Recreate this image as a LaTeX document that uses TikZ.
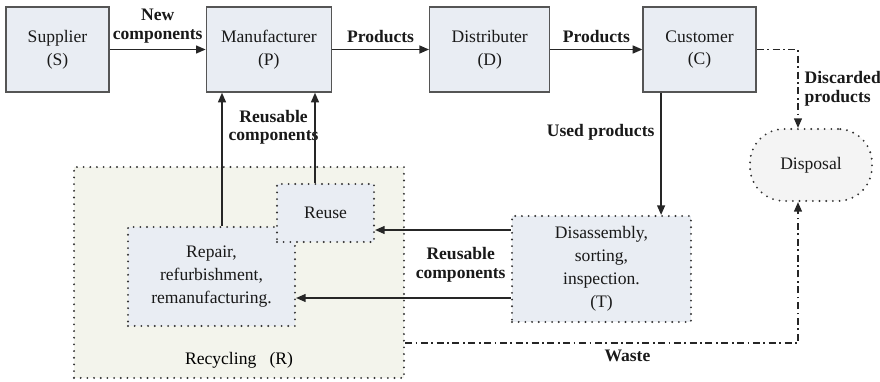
\documentclass[tikz,border=0pt]{standalone}
\usepackage{fontspec}
\setmainfont{Liberation Serif}
\usepackage{tikz}
\usetikzlibrary{arrows.meta,positioning,calc}

\definecolor{boxfill}{HTML}{E9EDF3}
\definecolor{recfill}{HTML}{F3F4EC}
\definecolor{dispfill}{HTML}{F4F4F4}
\definecolor{edgegray}{HTML}{555555}

\begin{document}
\begin{tikzpicture}[
    x=0.02cm, y=-0.02cm,
    font=\fontsize{10}{13}\selectfont,
    block/.style={rectangle, draw=edgegray, fill=boxfill, thick, minimum height=1.7cm, align=center, text=black!90},
    dotbox/.style={rectangle, draw=black!80, fill=boxfill, line width=1.2pt, dash pattern=on 0pt off 3.8pt, line cap=round, align=center, text=black!90},
    lbl/.style={font=\fontsize{10}{10.5}\selectfont\bfseries, align=center, text=black!90},
    arrow/.style={-{Triangle[length=5.5pt,width=4.5pt]}, line width=0.9pt, black!85},
    waste/.style={-{Triangle[length=5.5pt,width=4.5pt]}, line width=0.9pt, black!85, dash pattern=on 4pt off 2pt on 1pt off 2pt}
]
    \useasboundingbox (0,0) rectangle (880,382);

    % Supply chain
    \node[block, minimum width=2.06cm] (S) at (57.5,49.5) {Supplier\\(S)};
    \node[block, minimum width=2.5cm, right=1.92cm of S] (P) {Manufacturer\\(P)};
    \node[block, minimum width=2.4cm, right=1.94cm of P] (D) {Distributer\\(D)};
    \node[block, minimum width=2.26cm, right=1.84cm of D] (C) {Customer\\(C)};

    % Disposal
    \node[dotbox, fill=dispfill, rounded corners=0.68cm, minimum width=2.44cm, minimum height=1.44cm] (disp) at (811,165) {Disposal};

    % Recovery
    \node[dotbox, minimum width=3.58cm, minimum height=2.12cm] (T) at (601.5,269) {Disassembly,\\sorting,\\inspection.\\(T)};
    \node[dotbox, fill=recfill, minimum width=6.6cm, minimum height=4.22cm] (rec) at (239,272.5) {};
    \node[above=0.1cm of rec.south] (reclbl) {Recycling~~~(R)};
    \node[dotbox, minimum width=3.34cm, minimum height=1.98cm] (repair) at (211.5,276.5) {Repair,\\refurbishment,\\remanufacturing.};
    \node[dotbox, minimum width=1.94cm, minimum height=1.16cm] (reuse) at (325.5,213) {Reuse};

    % Arrows
    \draw[arrow] (S) -- node[lbl, above] {New\\components} (P);
    \draw[arrow] (P) -- node[lbl, above] {Products} (D);
    \draw[arrow] (D) -- node[lbl, above] {Products} (C);
    \draw[arrow] ([xshift=-0.77cm]C.south) -- node[lbl, left, pos=0.32] {Used products} ([xshift=-0.77cm]C.south |- T.north);
    \draw[arrow] ([yshift=0.78cm]T.west) -- node[lbl, below=0.22cm, pos=0.37] {Reusable\\components} ([yshift=0.78cm]T.west -| reuse.east);
    \draw[arrow] ([yshift=-0.58cm]T.west) -- ([yshift=-0.58cm]T.west -| repair.east);
    \draw[arrow] ([xshift=0.21cm]repair.north) -- node[lbl, right, pos=0.74] {Reusable\\components} ([xshift=0.21cm]repair.north |- P.south);
    \draw[arrow] ([xshift=-0.21cm]reuse.north) -- ([xshift=-0.21cm]reuse.north |- P.south);
    \draw[waste] (C.east) -| node[lbl, right, pos=0.75, align=left] {Discarded\\products} ([xshift=-0.26cm]disp.north);
    \draw[waste] ([yshift=-1.41cm]rec.east) -| node[lbl, below, pos=0.283] {Waste} ([xshift=-0.26cm]disp.south);
\end{tikzpicture}
\end{document}
